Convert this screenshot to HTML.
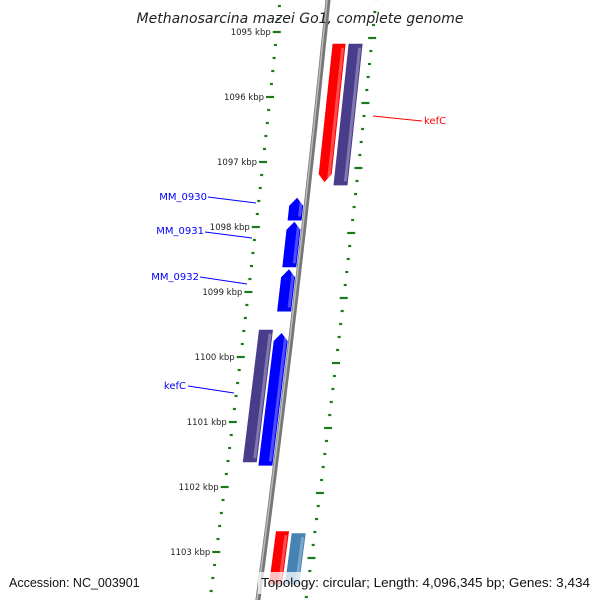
<!DOCTYPE html>
<html><head><meta charset="utf-8"><style>
body{margin:0;background:#fff}
svg{display:block;font-family:"DejaVu Sans","Liberation Sans",sans-serif}
</style></head><body>
<svg id="map" width="600" height="600" viewBox="0 0 600 600">
<g id="ticks"></g>
<g id="backbone"></g>
<g id="feats"></g>
<g id="labels"></g>
<text x="300" y="23" text-anchor="middle" font-size="14" font-style="italic" fill="#222">Methanosarcina mazei Go1, complete genome</text>
<rect x="4" y="572" width="132" height="22" fill="#fff" fill-opacity="0.7"/>
<text x="9" y="587" font-size="12.5" fill="#111" font-family="Liberation Sans, sans-serif">Accession: NC_003901</text>
<rect x="258" y="572" width="338" height="22" fill="#fff" fill-opacity="0.75"/>
<text x="261" y="587" font-size="12.5" fill="#111" textLength="329" lengthAdjust="spacingAndGlyphs" font-family="Liberation Sans, sans-serif">Topology: circular; Length: 4,096,345 bp; Genes: 3,434</text>
</svg>
<script>
const tickKbp = [1095,1096,1097,1098,1099,1100,1101,1102,1103];
const geneNames = ["kefC","","MM_0930","MM_0931","MM_0932","","kefC","",""];
const geneStart = [1095.18,1095.18,1097.55,1097.92,1098.65,1099.58,1099.63,1102.68,1102.71];
const geneEnd   = [1097.31,1097.36,1097.9,1098.62,1099.3,1101.62,1101.67,1103.5,1103.5];
const geneStrand= [-1,0,1,1,1,0,1,0,0];
const geneTrack = [1,2,-1,-1,-1,-2,-1,1,2];
const geneColor = ["#ff0000","#483d8b","#0000ff","#0000ff","#0000ff","#483d8b","#0000ff","#ff0000","#4682b4"];
const NS="http://www.w3.org/2000/svg";
function yOf(k){return 32+(k-1095)*65;}
function bx(y){return 328-0.1*y-0.000028*y*y;}
function mk(tag,attrs,parent){const e=document.createElementNS(NS,tag);for(const k in attrs)e.setAttribute(k,attrs[k]);parent.appendChild(e);return e;}
const T=document.getElementById('ticks');
for(let k=1094.4;k<=1104.1;k+=0.2){
  const kk=Math.round(k*10)/10;const maj=Math.abs(kk-Math.round(kk))<0.01;
  const y=yOf(kk);const xl=bx(y)-48;
  const l=mk('line',{x1:xl-(maj?4:1.5),y1:y,x2:xl+(maj?4:1.5),y2:y,stroke:'#1a7a1a','stroke-width':2.2},T);
  
  
  const yr=y+6;const xr=bx(yr)+48;
  const r=mk('line',{x1:xr-(maj?4:1.5),y1:yr,x2:xr+(maj?4:1.5),y2:yr,stroke:'#1a7a1a','stroke-width':2.2},T);
  
  
}
tickKbp.forEach(k=>{const y=yOf(k);
  const t=mk('text',{x:bx(y)-54,y:y+3,'text-anchor':'end','font-size':8.5,fill:'#222'},T);
  t.textContent=k+' kbp';
  
  
});
const B=document.getElementById('backbone');
let d='';for(let y=-5;y<=605;y+=10){d+=(y<0?'M':'L')+bx(y).toFixed(1)+' '+y+' ';}
const b1=mk('path',{d:d,stroke:'#777','stroke-width':5,fill:'none'},B);


const b2=mk('path',{d:d,stroke:'#bbb','stroke-width':1.5,fill:'none',transform:'translate(-1,0)'},B);


const F=document.getElementById('feats');
const off={1:[9,22],2:[25,39],'-1':[-17,-3],'-2':[-33,-19]};
for(let i=0;i<geneStart.length;i++){
  const y1=yOf(geneStart[i]),y2=Math.min(yOf(geneEnd[i]),610);
  const [o1,o2]=off[geneTrack[i]];const ah=8;
  let pts=[];
  const top=y1,bot=y2;
  if(geneStrand[i]>0){
    pts=[[bx(top+ah)+o1,top+ah],[bx(top)+(o1+o2)/2,top],[bx(top+ah)+o2,top+ah],[bx(bot)+o2,bot],[bx(bot)+o1,bot]];
  }else if(geneStrand[i]<0){
    pts=[[bx(top)+o1,top],[bx(top)+o2,top],[bx(bot-ah)+o2,bot-ah],[bx(bot)+(o1+o2)/2,bot],[bx(bot-ah)+o1,bot-ah]];
  }else{
    pts=[[bx(top)+o1,top],[bx(top)+o2,top],[bx(bot)+o2,bot],[bx(bot)+o1,bot]];
  }
  const p=mk('polygon',{points:pts.map(q=>q[0].toFixed(1)+','+q[1].toFixed(1)).join(' '),fill:geneColor[i]},F);
  
  
  const h=mk('polygon',{points:[[bx(top+4)+o2-4,top+4],[bx(top+4)+o2-1,top+4],[bx(bot-4)+o2-1,bot-4],[bx(bot-4)+o2-4,bot-4]].map(q=>q.join(',')).join(' '),fill:'#fff','fill-opacity':0.3},F);
  
  
}
const L=document.getElementById('labels');
const labs=[["kefC",373,116,422,121,424,124,"#ff0000","start"],["MM_0930",256,203,208,197,207,200,"#0000ff","end"],["MM_0931",252,238,205,232,204,234,"#0000ff","end"],["MM_0932",247,284,200,277,199,280,"#0000ff","end"],["kefC",234,393,188,386,186,389,"#0000ff","end"]];
labs.forEach(a=>{
  const l=mk('line',{x1:a[1],y1:a[2],x2:a[3],y2:a[4],stroke:a[7],'stroke-width':1},L);
  
  
  const t=mk('text',{x:a[5],y:a[6],'font-size':10,fill:a[7],'text-anchor':a[8]},L);
  t.textContent=a[0];
  
  
});
</script>
</body></html>
